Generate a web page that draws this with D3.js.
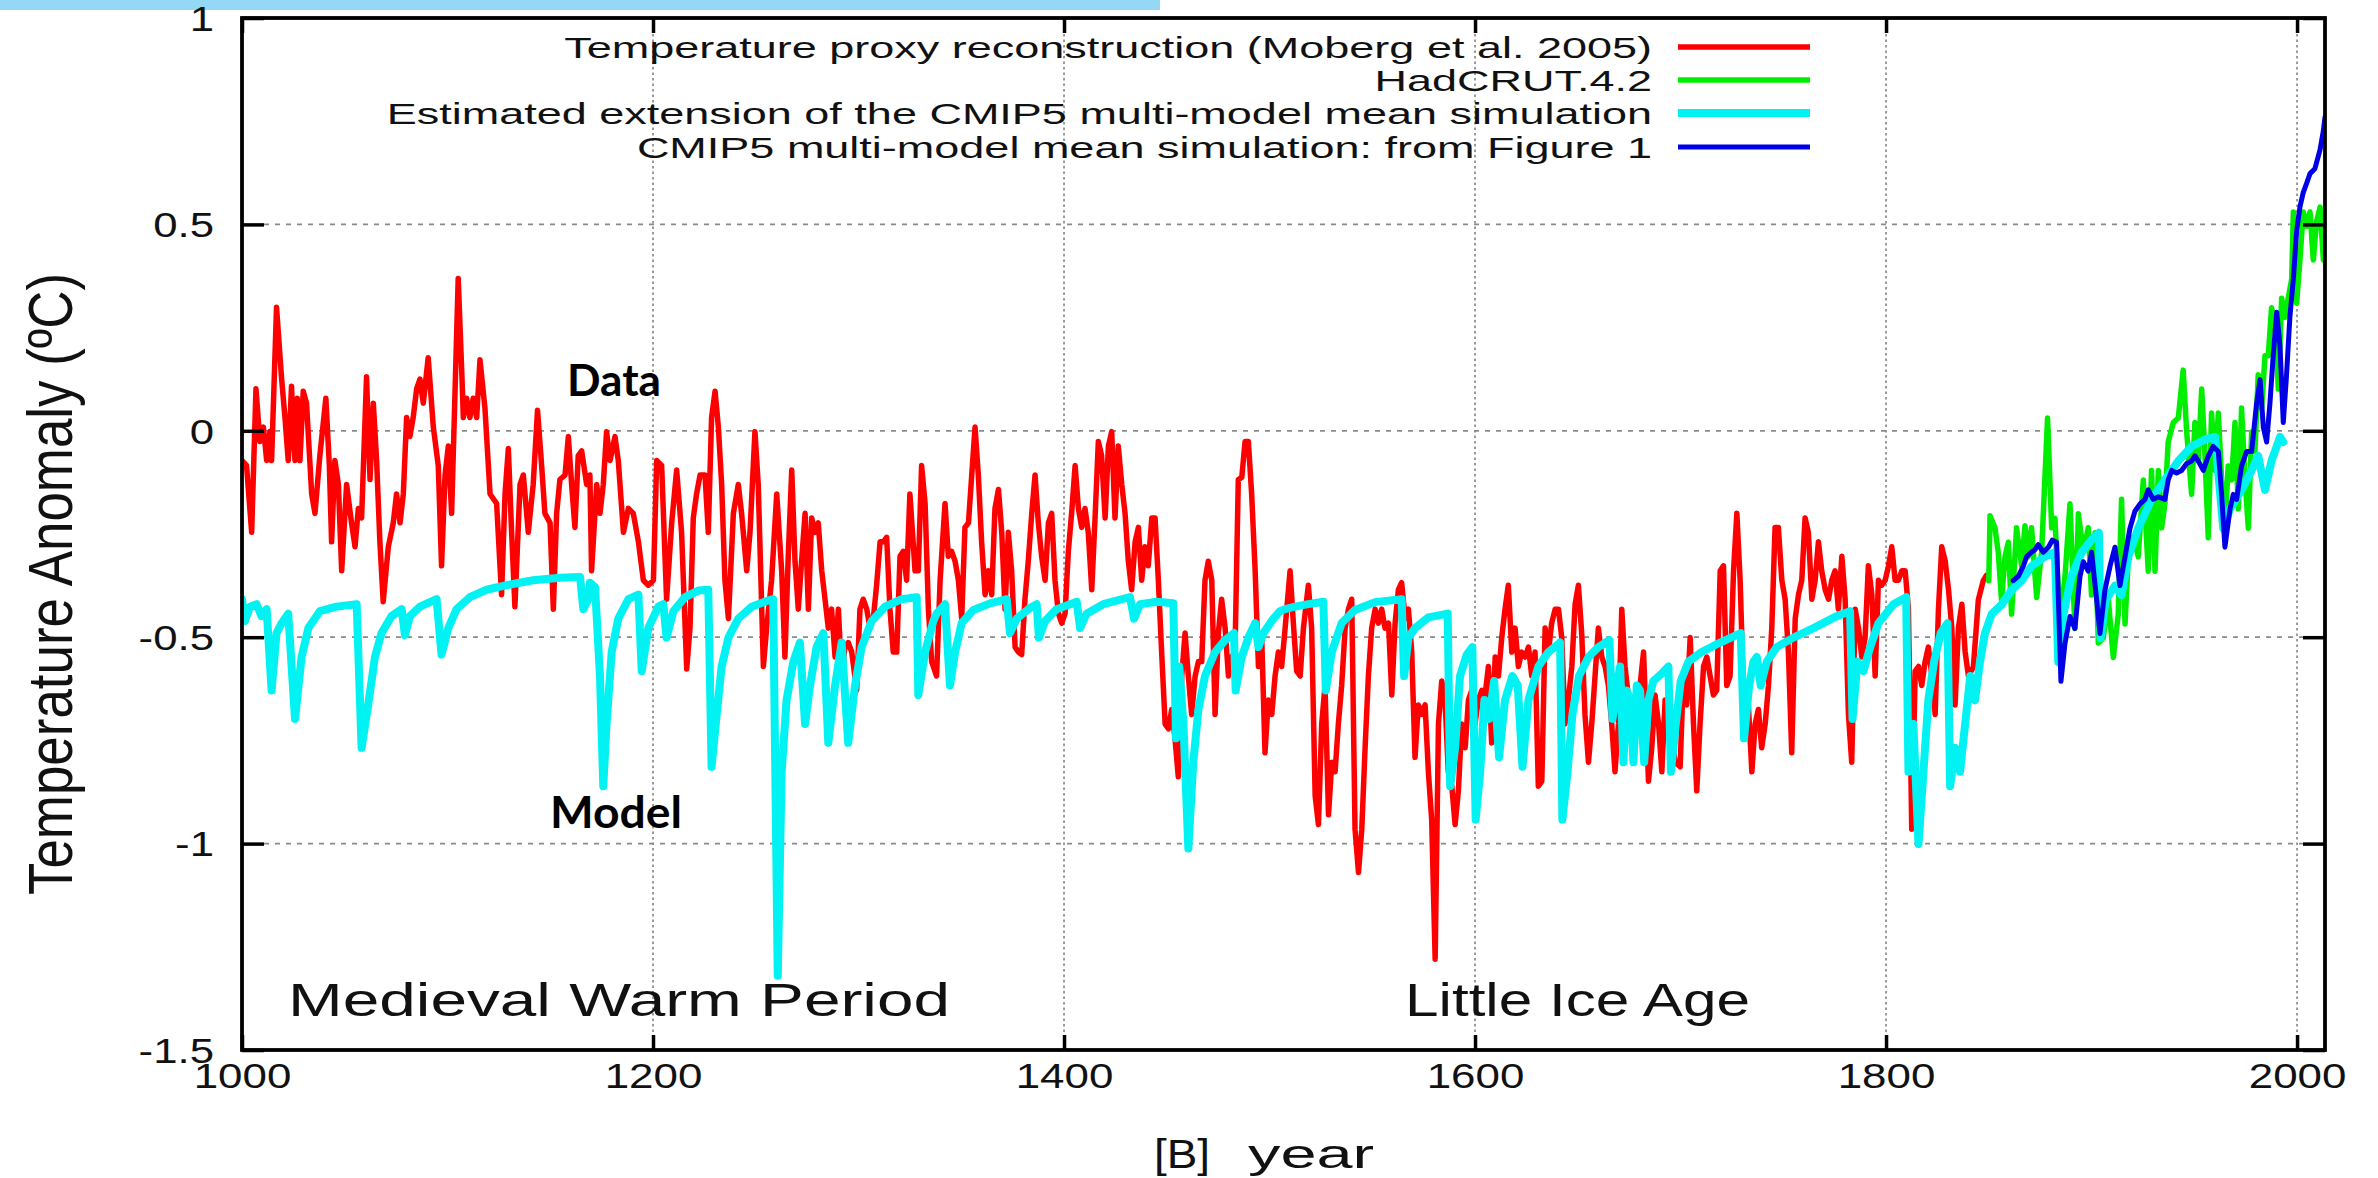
<!DOCTYPE html>
<html>
<head>
<meta charset="utf-8">
<script src="https://cdn.jsdelivr.net/npm/d3@7"></script>
<style>
  html, body { margin: 0; padding: 0; background: #fff; }
  svg { display: block; }
</style>
</head>
<body>
<svg id="chart" width="2378" height="1178"></svg>
<script>
// ---- data: [year, temperature anomaly in degC] ----
const mobergProxy = [
  [1000,-0.072],[1002.2,-0.084],[1004.7,-0.246],[1006.8,0.102],[1008.7,-0.026],[1010.4,0.009],[1012.0,-0.072],[1013.6,-0.002],
  [1014.4,-0.072],[1016.8,0.299],[1019.3,0.125],[1020.9,0.032],[1022.5,-0.072],[1024.1,0.108],[1025.0,-0.014],[1025.8,-0.072],
  [1026.9,0.079],[1028.2,-0.072],[1029.8,0.096],[1031.4,0.067],[1033.9,-0.153],[1035.5,-0.200],[1037.9,-0.060],[1040.8,0.079],
  [1042.5,-0.084],[1043.6,-0.269],[1045.2,-0.072],[1046.9,-0.130],[1048.5,-0.339],[1050.9,-0.130],[1053.3,-0.223],[1055.0,-0.281],
  [1056.6,-0.188],[1058.2,-0.211],[1060.6,0.131],[1062.3,-0.118],[1063.9,0.067],[1065.5,-0.072],[1067.1,-0.269],[1068.7,-0.414],
  [1071.2,-0.281],[1073.6,-0.223],[1075.2,-0.153],[1076.9,-0.223],[1078.5,-0.153],[1080.1,0.032],[1081.7,-0.014],[1083.3,0.032],
  [1085.0,0.102],[1086.6,0.125],[1088.2,0.067],[1090.6,0.177],[1093.1,0.009],[1095.5,-0.084],[1097.1,-0.327],[1098.8,-0.107],
  [1100.4,-0.037],[1102.0,-0.200],[1105.2,0.369],[1106.9,0.148],[1107.7,0.032],[1109.3,0.079],[1110.9,0.032],[1112.5,0.079],
  [1114.2,0.032],[1115.8,0.172],[1118.2,0.056],[1120.7,-0.153],[1123.9,-0.176],[1126.3,-0.397],[1128.0,-0.153],[1129.6,-0.043],
  [1131.2,-0.246],[1132.8,-0.426],[1135.3,-0.130],[1136.9,-0.107],[1139.3,-0.246],[1141.7,-0.130],[1143.8,0.050],[1145.8,-0.084],
  [1147.4,-0.200],[1149.9,-0.223],[1151.5,-0.432],[1153.1,-0.200],[1154.7,-0.118],[1157.2,-0.107],[1158.8,-0.014],[1160.4,-0.130],
  [1162.0,-0.234],[1163.6,-0.060],[1165.3,-0.049],[1167.7,-0.130],[1169.3,-0.107],
  [1170.1,-0.339],[1172.6,-0.130],[1174.2,-0.200],[1175.8,-0.130],[1177.4,-0.002],[1179.1,-0.072],[1181.5,-0.014],[1183.1,-0.072],
  [1185.6,-0.246],[1188.0,-0.188],[1190.4,-0.200],[1192.9,-0.269],[1195.3,-0.362],[1197.7,-0.374],[1200.2,-0.362],[1201.8,-0.072],
  [1204.2,-0.084],[1206.6,-0.408],[1209.1,-0.223],[1211.5,-0.095],[1213.9,-0.246],[1216.4,-0.577],[1218.0,-0.478],[1219.6,-0.211],
  [1221.2,-0.153],[1222.9,-0.107],[1225.3,-0.107],[1226.9,-0.246],[1228.5,0.032],[1230.2,0.096],[1231.8,0.009],[1233.4,-0.130],
  [1235.0,-0.362],[1236.7,-0.455],[1239.1,-0.200],[1241.5,-0.130],[1243.1,-0.200],[1245.6,-0.339],[1247.2,-0.246],[1249.6,-0.002],
  [1251.2,-0.130],[1253.7,-0.571],[1255.3,-0.478],[1257.7,-0.362],[1260.2,-0.153],[1262.6,-0.339],[1264.2,-0.548],[1265.8,-0.304],
  [1267.5,-0.095],[1269.1,-0.316],[1270.7,-0.432],[1272.3,-0.316],[1274.0,-0.200],[1275.6,-0.432],[1277.2,-0.211],[1278.8,-0.246],
  [1280.4,-0.223],[1282.1,-0.339],[1283.7,-0.408],[1285.3,-0.478],[1286.9,-0.432],[1288.6,-0.548],[1290.2,-0.432],[1291.8,-0.594],
  [1293.4,-0.524],[1295.0,-0.513],[1296.7,-0.536],[1299.1,-0.629],[1300.7,-0.432],[1302.3,-0.408],[1304.0,-0.432],[1305.6,-0.478],
  [1307.2,-0.455],[1308.8,-0.374],[1310.5,-0.269],[1312.1,-0.269],[1313.7,-0.258],[1315.3,-0.432],[1316.9,-0.536],[1318.6,-0.536],
  [1320.2,-0.304],[1321.8,-0.292],[1323.4,-0.362],[1325.0,-0.153],[1327.5,-0.339],[1329.1,-0.339],[1330.7,-0.084],[1332.4,-0.176],
  [1334.0,-0.432],[1335.6,-0.559],
  [1338.0,-0.594],[1339.7,-0.362],[1342.1,-0.176],[1343.7,-0.304],[1345.3,-0.292],[1347.0,-0.316],[1348.6,-0.362],[1350.2,-0.455],
  [1351.8,-0.234],[1353.5,-0.223],[1355.1,-0.107],[1356.7,0.009],[1358.3,-0.107],[1359.9,-0.269],[1361.6,-0.397],[1363.2,-0.339],
  [1364.8,-0.397],[1366.4,-0.188],[1368.1,-0.142],[1369.7,-0.246],[1371.3,-0.432],[1372.9,-0.246],[1374.5,-0.339],[1376.2,-0.524],
  [1377.8,-0.536],[1379.4,-0.542],[1381.0,-0.408],[1382.6,-0.316],[1384.3,-0.200],[1385.9,-0.107],[1387.5,-0.223],[1389.1,-0.304],
  [1390.8,-0.362],[1392.4,-0.223],[1394.0,-0.200],[1395.6,-0.362],[1397.3,-0.443],[1398.9,-0.466],[1400.5,-0.443],[1402.1,-0.292],
  [1403.7,-0.200],[1405.4,-0.084],[1407.0,-0.188],[1408.6,-0.234],[1410.2,-0.188],[1411.8,-0.246],[1413.5,-0.385],[1415.1,-0.211],
  [1416.7,-0.026],[1418.3,-0.060],[1420.0,-0.211],[1421.6,-0.037],[1423.2,-0.002],[1424.8,-0.211],[1426.4,-0.037],[1428.1,-0.130],
  [1429.7,-0.200],[1431.3,-0.316],[1432.9,-0.385],[1434.6,-0.269],[1436.2,-0.234],[1437.8,-0.362],[1439.4,-0.281],[1441.0,-0.327],
  [1442.7,-0.211],[1444.3,-0.211],[1445.9,-0.362],[1447.5,-0.536],[1449.2,-0.710],[1450.8,-0.722],[1452.4,-0.675],[1454.0,-0.745],
  [1455.6,-0.838],[1457.3,-0.594],[1458.9,-0.490],[1460.5,-0.594],[1462.1,-0.687],[1463.8,-0.594],[1465.4,-0.559],[1467.0,-0.559],
  [1468.6,-0.362],[1470.2,-0.316],[1471.9,-0.362],[1473.5,-0.687],[1475.1,-0.490],[1476.7,-0.408],[1478.4,-0.478],[1480.0,-0.594],
  [1481.6,-0.548],[1483.2,-0.536],[1484.8,-0.118],[1486.5,-0.113],[1488.1,-0.026],[1489.7,-0.026],[1491.3,-0.153],[1493.0,-0.339],
  [1494.6,-0.571],[1496.2,-0.501],[1497.8,-0.780],[1499.4,-0.652],[1501.1,-0.687],[1502.7,-0.594],[1504.3,-0.536],
  [1505.9,-0.571],[1507.6,-0.478],[1510.0,-0.339],[1511.6,-0.466],[1513.2,-0.582],[1514.9,-0.594],[1516.5,-0.478],[1518.9,-0.374],
  [1520.5,-0.478],[1522.2,-0.884],[1523.8,-0.954],[1525.4,-0.710],[1527.0,-0.617],[1528.7,-0.930],[1530.3,-0.803],[1531.9,-0.826],
  [1533.5,-0.710],[1535.1,-0.617],[1536.8,-0.478],[1538.4,-0.432],[1540.0,-0.408],[1541.6,-0.965],[1543.3,-1.070],[1544.9,-0.965],
  [1546.5,-0.768],[1548.1,-0.594],[1549.7,-0.478],[1551.4,-0.432],[1553.0,-0.466],[1554.6,-0.432],[1556.2,-0.478],[1557.9,-0.466],
  [1559.5,-0.640],[1561.1,-0.466],[1562.7,-0.385],[1564.3,-0.368],[1566.0,-0.455],[1567.6,-0.432],[1569.2,-0.536],[1570.8,-0.791],
  [1572.4,-0.664],[1574.1,-0.687],[1575.7,-0.664],[1577.3,-0.826],[1578.9,-0.942],[1580.6,-1.280],[1582.2,-0.710],[1583.8,-0.606],
  [1585.4,-0.652],[1587.0,-0.826],[1588.7,-0.861],[1590.3,-0.954],[1591.9,-0.872],[1593.5,-0.710],[1595.2,-0.768],[1596.8,-0.652],
  [1598.4,-0.629],[1600.0,-0.710],[1601.6,-0.652],[1603.3,-0.629],[1604.9,-0.640],[1606.5,-0.571],[1608.1,-0.756],[1609.8,-0.548],
  [1611.4,-0.594],[1613.0,-0.501],[1614.6,-0.432],[1616.2,-0.374],[1617.9,-0.536],[1619.5,-0.478],[1621.1,-0.571],[1622.7,-0.536],
  [1624.4,-0.548],[1626.0,-0.524],[1627.6,-0.594],[1629.2,-0.536],[1630.8,-0.861],[1632.5,-0.849],[1634.1,-0.478],[1635.7,-0.536],
  [1637.3,-0.466],[1639.0,-0.432],[1640.6,-0.432],[1642.2,-0.501],[1643.8,-0.710],[1645.4,-0.652],[1647.1,-0.571],[1648.7,-0.420],
  [1650.3,-0.374],[1651.9,-0.490],[1653.5,-0.687],[1655.2,-0.803],[1656.8,-0.710],[1658.4,-0.594],[1660.0,-0.478],[1661.7,-0.548],
  [1663.3,-0.571],[1664.9,-0.617],[1666.5,-0.710],[1668.1,-0.826],[1669.8,-0.710],[1671.4,-0.432],[1673.0,-0.571],
  [1675.5,-0.687],[1677.9,-0.652],[1680.3,-0.617],[1682.0,-0.536],[1684.4,-0.849],[1686.0,-0.768],[1687.6,-0.640],[1689.3,-0.710],
  [1690.9,-0.826],[1692.5,-0.652],[1694.9,-0.710],[1697.4,-0.803],[1699.8,-0.814],[1701.4,-0.594],[1703.0,-0.664],[1704.7,-0.501],
  [1706.3,-0.710],[1707.9,-0.872],[1709.5,-0.710],[1711.2,-0.571],[1712.8,-0.548],[1714.4,-0.594],[1716.0,-0.640],[1717.6,-0.629],
  [1719.3,-0.339],[1720.9,-0.327],[1722.5,-0.617],[1724.1,-0.594],[1725.8,-0.339],[1727.4,-0.200],[1729.0,-0.362],[1730.6,-0.629],
  [1733.0,-0.664],[1734.7,-0.826],[1736.3,-0.710],[1737.9,-0.675],[1739.5,-0.768],[1741.2,-0.710],[1742.8,-0.617],[1744.4,-0.478],
  [1746.0,-0.234],[1747.6,-0.234],[1749.3,-0.362],[1750.9,-0.408],[1752.5,-0.536],[1754.1,-0.780],[1755.8,-0.455],[1757.4,-0.397],
  [1759.0,-0.362],[1760.6,-0.211],[1762.2,-0.246],[1763.9,-0.408],[1765.5,-0.362],[1767.1,-0.269],[1768.7,-0.339],[1770.4,-0.385],
  [1772.0,-0.408],[1773.6,-0.362],[1775.2,-0.339],[1776.8,-0.432],[1778.5,-0.304],[1780.1,-0.408],[1781.7,-0.687],[1783.3,-0.803],
  [1785.0,-0.432],[1786.6,-0.478],[1788.2,-0.548],[1789.8,-0.501],[1791.4,-0.327],[1793.1,-0.397],[1794.7,-0.594],[1796.3,-0.362],
  [1797.9,-0.374],[1799.6,-0.362],[1801.2,-0.327],[1802.8,-0.281],[1804.4,-0.362],[1806.0,-0.362],[1807.7,-0.339],[1809.3,-0.339],
  [1810.9,-0.432],[1812.5,-0.965],[1814.2,-0.582],[1815.8,-0.571],[1817.4,-0.617],[1819.0,-0.559],[1820.6,-0.524],[1822.3,-0.594],
  [1823.9,-0.687],[1825.5,-0.432],[1827.1,-0.281],[1828.8,-0.316],[1830.4,-0.385],[1832.0,-0.478],[1833.6,-0.664],[1835.2,-0.478],
  [1836.9,-0.420],[1838.5,-0.536],[1840.1,-0.594],[1842.5,-0.572],[1844.9,-0.410],[1847.3,-0.363],[1848.9,-0.350]
];

const cmip5Extension = [
  [1000,-0.408],[1001.4,-0.461],[1003.9,-0.426],[1007.1,-0.420],[1009.5,-0.449],[1012.0,-0.432],[1014.4,-0.629],[1016.8,-0.490],
  [1019.3,-0.466],[1022.5,-0.443],[1025.8,-0.698],[1029.0,-0.548],[1032.3,-0.478],[1037.9,-0.437],[1046.0,-0.426],[1055.8,-0.420],
  [1058.2,-0.768],[1061.4,-0.664],[1064.7,-0.548],[1067.9,-0.490],[1072.8,-0.449],[1077.7,-0.432],[1079.3,-0.495],[1081.7,-0.449],
  [1086.6,-0.426],[1094.7,-0.408],[1097.1,-0.542],[1100.4,-0.478],[1104.4,-0.432],[1110.9,-0.403],[1119.0,-0.385],[1128.8,-0.374],
  [1141.7,-0.362],[1154.7,-0.356],[1164.5,-0.354],[1166.1,-0.432],[1168.5,-0.408],
  [1169.3,-0.368],[1171.8,-0.379],[1174.2,-0.594],[1175.8,-0.861],[1177.4,-0.710],[1179.9,-0.536],[1183.1,-0.455],[1188.0,-0.408],
  [1192.9,-0.397],[1194.5,-0.582],[1197.7,-0.478],[1202.6,-0.426],[1205.0,-0.420],[1206.6,-0.501],[1209.9,-0.437],[1215.6,-0.403],
  [1222.0,-0.387],[1226.9,-0.385],[1228.5,-0.814],[1231.0,-0.687],[1233.4,-0.571],[1236.7,-0.501],[1241.5,-0.455],[1248.0,-0.426],
  [1256.1,-0.411],[1258.5,-0.408],[1260.7,-1.320],[1262.6,-0.826],[1265.0,-0.652],[1268.3,-0.559],[1271.5,-0.513],[1274.0,-0.710],
  [1276.4,-0.617],[1279.6,-0.524],[1282.9,-0.490],[1285.3,-0.756],[1288.6,-0.617],[1291.8,-0.513],[1295.0,-0.756],[1298.3,-0.617],
  [1301.5,-0.524],[1306.4,-0.461],[1312.9,-0.426],[1321.0,-0.408],[1328.3,-0.403],[1329.1,-0.640],[1332.4,-0.536],[1336.4,-0.461],
  [1338.0,-0.443],[1342.1,-0.420],[1344.5,-0.617],[1347.0,-0.536],[1350.2,-0.466],[1355.9,-0.434],[1364.0,-0.418],[1372.1,-0.408],
  [1373.7,-0.490],[1377.0,-0.455],[1383.5,-0.429],[1386.7,-0.420],[1387.8,-0.501],[1390.8,-0.461],[1396.4,-0.432],[1406.2,-0.414],
  [1407.8,-0.478],[1411.0,-0.443],[1419.1,-0.420],[1432.1,-0.403],[1434.1,-0.455],[1437.0,-0.420],[1445.1,-0.414],[1453.2,-0.418],
  [1454.5,-0.745],[1456.1,-0.571],[1458.1,-0.710],[1460.5,-1.012],[1462.9,-0.803],[1465.4,-0.675],[1468.6,-0.594],[1473.5,-0.536],
  [1478.4,-0.507],[1482.7,-0.490],[1483.5,-0.629],[1486.5,-0.548],[1489.7,-0.501],[1493.0,-0.466],[1494.6,-0.524],[1497.0,-0.490],
  [1501.9,-0.455],[1505.1,-0.437],
  [1507.6,-0.432],[1512.4,-0.426],[1518.9,-0.420],[1526.2,-0.414],[1527.4,-0.629],[1530.3,-0.536],[1535.1,-0.466],[1541.6,-0.434],
  [1551.4,-0.415],[1564.3,-0.408],[1565.5,-0.594],[1567.6,-0.501],[1570.8,-0.478],[1577.3,-0.452],[1586.7,-0.443],[1587.9,-0.861],
  [1590.3,-0.768],[1592.7,-0.594],[1596.0,-0.542],[1598.7,-0.524],[1600.3,-0.942],[1602.5,-0.826],[1604.6,-0.652],[1606.8,-0.698],
  [1609.3,-0.606],[1611.7,-0.791],[1614.6,-0.652],[1618.2,-0.594],[1620.8,-0.617],[1623.1,-0.814],[1626.0,-0.652],[1630.8,-0.571],
  [1635.7,-0.536],[1641.4,-0.513],[1642.5,-0.942],[1645.0,-0.826],[1647.4,-0.687],[1650.6,-0.594],[1655.2,-0.548],[1660.0,-0.524],
  [1665.4,-0.507],[1666.9,-0.698],[1669.8,-0.594],
  [1670.6,-0.571],[1672.2,-0.803],[1673.8,-0.629],[1675.5,-0.652],[1677.1,-0.803],[1678.7,-0.617],[1680.3,-0.629],[1682.3,-0.803],
  [1684.4,-0.652],[1686.8,-0.606],[1690.9,-0.588],[1694.1,-0.571],[1695.3,-0.826],[1697.7,-0.710],[1700.1,-0.606],[1703.9,-0.559],
  [1710.3,-0.536],[1719.3,-0.513],[1729.3,-0.490],[1730.9,-0.745],[1733.4,-0.617],[1735.5,-0.559],[1737.1,-0.548],[1739.0,-0.617],
  [1742.0,-0.559],[1746.8,-0.524],[1754.9,-0.501],[1764.7,-0.478],[1776.0,-0.449],[1782.5,-0.437],[1783.7,-0.698],[1786.1,-0.559],
  [1789.0,-0.582],[1792.3,-0.524],[1796.3,-0.466],[1803.6,-0.420],[1809.8,-0.403],[1810.9,-0.826],[1813.3,-0.710],[1815.8,-1.001],
  [1818.2,-0.826],[1820.6,-0.652],[1823.4,-0.559],[1826.6,-0.490],[1829.9,-0.466],[1831.2,-0.861],[1833.6,-0.768],[1836.0,-0.826],
  [1838.5,-0.710],[1841.0,-0.594],
  [1843.3,-0.653],[1845.7,-0.560],[1848.1,-0.491],[1851.4,-0.444],[1856.2,-0.421],[1861.1,-0.386],[1866.0,-0.363],[1870.8,-0.328],
  [1877.3,-0.305],[1882.2,-0.294],[1883.8,-0.560],[1886.3,-0.444],[1890.3,-0.352],[1895.2,-0.294],[1900.8,-0.259],[1903.6,-0.247],
  [1904.4,-0.502],[1906.9,-0.410],[1911.4,-0.375],[1914.6,-0.398],[1917.9,-0.305],[1922.7,-0.236],[1929.2,-0.166],[1935.7,-0.119],
  [1942.2,-0.073],[1948.7,-0.038],[1955.2,-0.021],[1960.1,-0.015],[1964.1,-0.236],[1967.4,-0.189],[1973.0,-0.143],[1977.9,-0.096],
  [1981.1,-0.061],[1984.4,-0.143],[1987.6,-0.073],[1991.7,-0.015],[1993.3,-0.027]
];

const cmip5Mean = [
  [1861.9,-0.363],[1864.4,-0.352],[1866.8,-0.328],[1868.4,-0.305],[1870.8,-0.294],[1872.5,-0.288],[1874.1,-0.276],[1876.5,-0.294],
  [1879.0,-0.282],[1880.9,-0.265],[1883.0,-0.270],[1885.1,-0.607],[1887.1,-0.514],[1889.5,-0.450],[1891.9,-0.479],[1894.4,-0.352],
  [1896.0,-0.317],[1898.4,-0.340],[1900.0,-0.294],[1902.5,-0.410],[1904.1,-0.491],[1906.5,-0.386],[1909.0,-0.328],[1911.4,-0.282],
  [1913.8,-0.375],[1916.3,-0.305],[1918.7,-0.236],[1921.1,-0.195],[1923.6,-0.177],[1926.0,-0.166],[1927.6,-0.143],[1930.0,-0.166],
  [1932.5,-0.160],[1935.7,-0.166],[1937.3,-0.119],[1939.0,-0.096],[1941.4,-0.102],[1943.8,-0.096],[1946.3,-0.079],[1948.7,-0.073],
  [1950.3,-0.061],[1951.9,-0.073],[1954.4,-0.096],[1956.8,-0.061],[1959.2,-0.038],[1961.7,-0.050],[1963.3,-0.154],[1964.9,-0.282],
  [1967.4,-0.189],[1969.0,-0.154],[1970.6,-0.166],[1973.0,-0.085],[1975.5,-0.050],[1977.9,-0.050],[1980.3,0.066],[1982.0,0.124],
  [1983.6,0.008],[1985.2,-0.027],[1986.8,0.066],[1988.4,0.182],[1990.1,0.287],[1991.7,0.205],[1993.3,0.020],[1994.9,0.136],
  [1996.5,0.275],[1998.2,0.368],[1999.8,0.484],[2001.4,0.542],[2003.0,0.577],[2004.7,0.600],[2006.3,0.623],[2008.7,0.635],
  [2011.2,0.681],[2012.8,0.727],[2013.6,0.760]
];

const hadcrut42 = [
  [1850.0,-0.363],[1850.6,-0.206],[1853.0,-0.235],[1854.6,-0.294],[1856.2,-0.410],[1857.9,-0.305],[1859.5,-0.270],[1861.1,-0.444],
  [1863.5,-0.235],[1866.0,-0.328],[1867.6,-0.230],[1869.2,-0.305],[1870.8,-0.235],[1873.3,-0.404],[1875.7,-0.294],[1878.6,0.031],
  [1880.6,-0.235],[1882.2,-0.212],[1884.6,-0.468],[1887.1,-0.352],[1889.5,-0.177],[1891.9,-0.479],[1893.6,-0.201],[1896.0,-0.294],
  [1898.4,-0.235],[1900.0,-0.398],[1901.7,-0.247],[1903.3,-0.514],[1905.7,-0.502],[1908.2,-0.410],[1910.6,-0.549],[1913.0,-0.444],
  [1914.6,-0.166],[1916.3,-0.468],[1917.9,-0.305],[1919.5,-0.259],[1921.1,-0.270],[1922.7,-0.305],[1925.2,-0.119],[1927.6,-0.340],
  [1929.2,-0.096],[1930.9,-0.340],[1932.5,-0.096],[1934.1,-0.235],[1935.7,-0.177],[1937.3,-0.027],[1939.8,0.020],[1942.2,0.031],
  [1944.6,0.147],[1946.3,-0.003],[1948.7,-0.154],[1950.3,0.020],[1951.9,-0.073],[1953.6,0.101],[1955.2,-0.061],[1956.8,-0.259],
  [1958.4,0.043],[1960.1,-0.096],[1961.7,0.043],[1963.3,-0.119],[1964.9,-0.236],[1966.5,-0.085],[1968.2,-0.119],[1969.8,0.020],
  [1971.4,-0.189],[1973.0,0.055],[1974.7,-0.119],[1976.3,-0.236],[1977.9,-0.003],[1979.5,-0.050],[1981.1,0.136],[1982.8,0.055],
  [1984.4,0.182],[1986.0,0.182],[1987.6,0.298],[1989.3,0.263],[1990.9,0.101],[1992.5,0.321],[1994.1,0.275],[1995.7,0.321],
  [1997.4,0.368],[1998.2,0.530],[1999.8,0.309],[2001.4,0.414],[2003.0,0.530],[2004.7,0.495],[2006.3,0.530],[2007.9,0.414],
  [2009.5,0.507],[2011.2,0.542],[2012.8,0.414]
];

const xTicks = [1000, 1200, 1400, 1600, 1800, 2000];
const xTickLabels = ["1000", "1200", "1400", "1600", "1800", "2000"];
const yTicks = [-1.5, -1, -0.5, 0, 0.5, 1];
const yTickLabels = ["-1.5", "-1", "-0.5", "0", "0.5", "1"];

const legendLabels = [
  "Temperature proxy reconstruction (Moberg et al. 2005)",
  "HadCRUT.4.2",
  "Estimated extension of the CMIP5 multi-model mean simulation",
  "CMIP5 multi-model mean simulation: from Figure 1"
];

// ---- layout ----
const plot = { left: 242, right: 2325, top: 18, bottom: 1050 };
const FONT = "'Liberation Sans', Arial, Helvetica, sans-serif";

const svg = d3.select("#chart");

const x = d3.scaleLinear().domain([1000, 2013.6]).range([plot.left, plot.right]);
const y = d3.scaleLinear().domain([-1.5, 1]).range([plot.bottom, plot.top]);

// thin light-blue strip along the top edge
svg.append("rect").attr("x", 0).attr("y", 0).attr("width", 1160).attr("height", 10).attr("fill", "#93d9f5");

// grid
const grid = svg.append("g");
grid.selectAll("line.h").data(yTicks.filter(v => v > -1.5 && v < 1)).enter().append("line")
  .attr("x1", plot.left + 22).attr("x2", plot.right - 22)
  .attr("y1", d => y(d)).attr("y2", d => y(d))
  .attr("stroke", "#8a8a8a").attr("stroke-width", 1.7).attr("stroke-dasharray", "5,6");
grid.selectAll("line.v").data(xTicks.filter(v => v > 1000)).enter().append("line")
  .attr("x1", d => x(d)).attr("x2", d => x(d))
  .attr("y1", plot.top + 16).attr("y2", plot.bottom - 16)
  .attr("stroke", "#8a8a8a").attr("stroke-width", 1.7).attr("stroke-dasharray", "2.5,3");

// series
svg.append("defs").append("clipPath").attr("id", "plotClip")
  .append("rect").attr("x", plot.left).attr("y", plot.top)
  .attr("width", plot.right - plot.left).attr("height", plot.bottom - plot.top);

const line = d3.line().x(d => x(d[0])).y(d => y(d[1]));
const series = [
  { data: mobergProxy,    color: "#ff0000", width: 5.5 },
  { data: hadcrut42,      color: "#00ee00", width: 5.5 },
  { data: cmip5Extension, color: "#00f2f2", width: 8 },
  { data: cmip5Mean,      color: "#0000e6", width: 5 }
];
const lines = svg.append("g").attr("clip-path", "url(#plotClip)");
series.forEach(s => {
  lines.append("path").datum(s.data)
    .attr("d", line).attr("fill", "none")
    .attr("stroke", s.color).attr("stroke-width", s.width)
    .attr("stroke-linejoin", "round").attr("stroke-linecap", "round");
});

// axes: mirrored inward ticks on all four sides
const axisStyle = g => {
  g.select(".domain").remove();
  g.selectAll(".tick line").attr("stroke", "#000").attr("stroke-width", 3.5);
};
svg.append("g").attr("transform", `translate(0,${plot.bottom})`)
  .call(d3.axisBottom(x).tickValues(xTicks).tickSize(-15).tickFormat((d, i) => xTickLabels[i]))
  .call(axisStyle)
  .call(g => g.selectAll(".tick text")
    .attr("y", 0).attr("dy", 0)
    .attr("transform", "translate(0,38) scale(1.22,1)")
    .attr("font-family", FONT).attr("font-size", 36).attr("fill", "#111"));
svg.append("g").attr("transform", `translate(0,${plot.top})`)
  .call(d3.axisTop(x).tickValues(xTicks).tickSize(-15).tickFormat(""))
  .call(axisStyle);
svg.append("g").attr("transform", `translate(${plot.left},0)`)
  .call(d3.axisLeft(y).tickValues(yTicks).tickSize(-22).tickFormat((d, i) => yTickLabels[i]))
  .call(axisStyle)
  .call(g => g.selectAll(".tick text")
    .attr("x", 0).attr("dy", "0.35em")
    .attr("transform", "translate(-28,0) scale(1.25,1)")
    .attr("font-family", FONT).attr("font-size", 35).attr("fill", "#111"));
svg.append("g").attr("transform", `translate(${plot.right},0)`)
  .call(d3.axisRight(y).tickValues(yTicks).tickSize(-22).tickFormat(""))
  .call(axisStyle);

// frame
svg.append("rect")
  .attr("x", plot.left).attr("y", plot.top)
  .attr("width", plot.right - plot.left).attr("height", plot.bottom - plot.top)
  .attr("fill", "none").attr("stroke", "#000").attr("stroke-width", 3.8);

// legend
const legendRowsY = [47, 80, 113, 147];
const legend = svg.append("g");
series.forEach((s, i) => {
  legend.append("text")
    .attr("transform", `translate(1652,${legendRowsY[i] + 11}) scale(1.5,1)`)
    .attr("text-anchor", "end")
    .attr("font-family", FONT).attr("font-size", 30).attr("fill", "#111")
    .text(legendLabels[i]);
  legend.append("line")
    .attr("x1", 1678).attr("x2", 1810)
    .attr("y1", legendRowsY[i]).attr("y2", legendRowsY[i])
    .attr("stroke", s.color).attr("stroke-width", s.width);
});

// period labels and axis titles
const stretched = (txt, px, py, size, len) =>
  svg.append("text")
    .attr("x", px).attr("y", py)
    .attr("font-family", FONT).attr("font-size", size).attr("fill", "#111")
    .attr("textLength", len).attr("lengthAdjust", "spacingAndGlyphs")
    .text(txt);
stretched("Medieval Warm Period", 288, 1016, 46, 662);
stretched("Little Ice Age", 1405, 1016, 46, 345);
stretched("[B]", 1154, 1168, 40, 56);
stretched("year", 1248, 1168, 40, 126);

svg.append("text")
  .attr("transform", "translate(72,584) scale(1.3,1) rotate(-90)")
  .attr("text-anchor", "middle")
  .attr("font-family", FONT).attr("font-size", 48).attr("fill", "#111")
  .attr("textLength", 622).attr("lengthAdjust", "spacingAndGlyphs")
  .text("Temperature Anomaly (ºC)");

// annotations
const note = (txt, px, py, len) =>
  svg.append("text")
    .attr("x", px).attr("y", py)
    .attr("font-family", "Lato, 'Open Sans', sans-serif").attr("font-weight", 700)
    .attr("font-size", 44).attr("fill", "#000")
    .attr("textLength", len).attr("lengthAdjust", "spacingAndGlyphs")
    .text(txt);
note("Data", 567, 396, 94);
note("Model", 550, 828, 132);
</script>
</body>
</html>
